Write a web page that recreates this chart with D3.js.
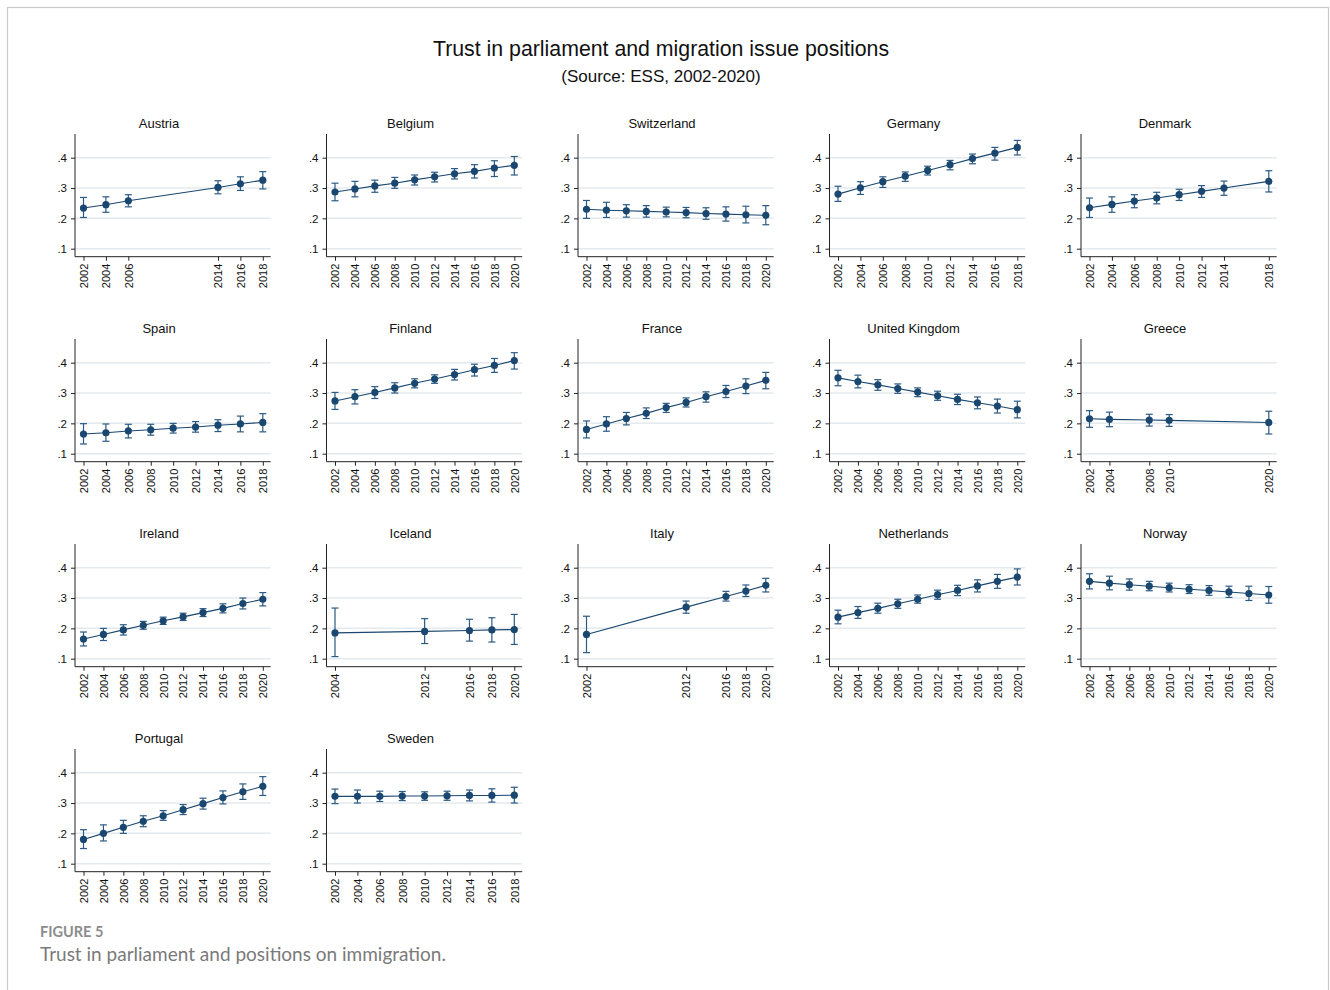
<!DOCTYPE html>
<html>
<head>
<meta charset="utf-8">
<script src="https://cdn.jsdelivr.net/npm/d3@7"></script>
<style>
  html, body { margin: 0; padding: 0; background: #fff; }
  svg { display: block; }
</style>
</head>
<body>
<svg id="chart" width="1330" height="990"></svg>
<script>
// ---------------- DATA ----------------
const countries = ["Austria","Belgium","Switzerland","Germany","Denmark",
  "Spain","Finland","France","United Kingdom","Greece",
  "Ireland","Iceland","Italy","Netherlands","Norway",
  "Portugal","Sweden"];

const yearsByCountry = [
  [2002,2004,2006,2014,2016,2018],
  [2002,2004,2006,2008,2010,2012,2014,2016,2018,2020],
  [2002,2004,2006,2008,2010,2012,2014,2016,2018,2020],
  [2002,2004,2006,2008,2010,2012,2014,2016,2018],
  [2002,2004,2006,2008,2010,2012,2014,2018],
  [2002,2004,2006,2008,2010,2012,2014,2016,2018],
  [2002,2004,2006,2008,2010,2012,2014,2016,2018,2020],
  [2002,2004,2006,2008,2010,2012,2014,2016,2018,2020],
  [2002,2004,2006,2008,2010,2012,2014,2016,2018,2020],
  [2002,2004,2008,2010,2020],
  [2002,2004,2006,2008,2010,2012,2014,2016,2018,2020],
  [2004,2012,2016,2018,2020],
  [2002,2012,2016,2018,2020],
  [2002,2004,2006,2008,2010,2012,2014,2016,2018,2020],
  [2002,2004,2006,2008,2010,2012,2014,2016,2018,2020],
  [2002,2004,2006,2008,2010,2012,2014,2016,2018,2020],
  [2002,2004,2006,2008,2010,2012,2014,2016,2018]
];

const estimates = [
  [0.234,0.245,0.258,0.302,0.314,0.326],
  [0.287,0.297,0.307,0.316,0.327,0.337,0.347,0.355,0.366,0.375],
  [0.230,0.227,0.225,0.223,0.221,0.219,0.216,0.214,0.212,0.210],
  [0.280,0.301,0.321,0.339,0.358,0.377,0.397,0.415,0.434],
  [0.235,0.246,0.257,0.267,0.278,0.289,0.300,0.322],
  [0.165,0.169,0.175,0.179,0.184,0.188,0.194,0.198,0.203],
  [0.274,0.288,0.302,0.317,0.332,0.346,0.361,0.377,0.391,0.407],
  [0.180,0.198,0.216,0.233,0.252,0.269,0.288,0.305,0.323,0.342],
  [0.350,0.338,0.327,0.315,0.303,0.291,0.279,0.268,0.257,0.245],
  [0.215,0.213,0.211,0.210,0.203],
  [0.165,0.180,0.195,0.210,0.225,0.238,0.252,0.266,0.282,0.296],
  [0.185,0.190,0.193,0.195,0.196],
  [0.180,0.270,0.305,0.323,0.342],
  [0.237,0.252,0.266,0.281,0.296,0.311,0.325,0.340,0.355,0.369],
  [0.355,0.349,0.344,0.339,0.334,0.329,0.325,0.320,0.315,0.310],
  [0.180,0.200,0.220,0.240,0.258,0.278,0.298,0.318,0.337,0.355],
  [0.322,0.322,0.322,0.323,0.323,0.324,0.325,0.325,0.326]
];

const lowerCI = [
  [0.203,0.220,0.238,0.281,0.292,0.297],
  [0.258,0.271,0.286,0.299,0.310,0.320,0.330,0.333,0.338,0.343],
  [0.200,0.203,0.204,0.204,0.205,0.202,0.197,0.191,0.185,0.179],
  [0.256,0.279,0.302,0.322,0.343,0.360,0.380,0.392,0.409],
  [0.203,0.220,0.235,0.248,0.259,0.269,0.276,0.287],
  [0.132,0.141,0.152,0.161,0.168,0.171,0.173,0.172,0.172],
  [0.246,0.264,0.282,0.300,0.317,0.332,0.343,0.356,0.368,0.379],
  [0.152,0.174,0.195,0.216,0.236,0.254,0.270,0.285,0.298,0.314],
  [0.324,0.317,0.309,0.299,0.288,0.276,0.262,0.248,0.234,0.218],
  [0.187,0.189,0.191,0.190,0.165],
  [0.142,0.160,0.178,0.197,0.213,0.226,0.239,0.251,0.264,0.274],
  [0.107,0.150,0.158,0.155,0.147],
  [0.120,0.250,0.290,0.305,0.320],
  [0.215,0.233,0.250,0.266,0.283,0.296,0.308,0.320,0.332,0.343],
  [0.330,0.327,0.326,0.324,0.320,0.315,0.309,0.302,0.292,0.283],
  [0.150,0.175,0.200,0.222,0.243,0.262,0.280,0.297,0.312,0.325],
  [0.298,0.300,0.305,0.308,0.309,0.309,0.307,0.303,0.300]
];

const upperCI = [
  [0.269,0.271,0.278,0.324,0.337,0.354],
  [0.316,0.322,0.326,0.335,0.343,0.352,0.364,0.377,0.390,0.404],
  [0.259,0.253,0.245,0.242,0.237,0.236,0.235,0.238,0.240,0.242],
  [0.306,0.321,0.337,0.353,0.372,0.391,0.412,0.434,0.457],
  [0.267,0.271,0.278,0.286,0.296,0.308,0.323,0.357],
  [0.199,0.198,0.197,0.197,0.200,0.206,0.212,0.224,0.232],
  [0.302,0.311,0.321,0.334,0.347,0.360,0.378,0.395,0.414,0.433],
  [0.208,0.222,0.236,0.251,0.266,0.284,0.304,0.325,0.347,0.368],
  [0.375,0.359,0.344,0.330,0.317,0.306,0.296,0.287,0.280,0.273],
  [0.242,0.237,0.230,0.229,0.240],
  [0.188,0.200,0.212,0.223,0.237,0.250,0.265,0.281,0.300,0.318],
  [0.267,0.232,0.230,0.235,0.246],
  [0.240,0.290,0.322,0.343,0.365],
  [0.260,0.272,0.283,0.296,0.310,0.326,0.342,0.360,0.378,0.396],
  [0.380,0.372,0.363,0.355,0.349,0.344,0.341,0.339,0.339,0.338],
  [0.212,0.228,0.243,0.258,0.275,0.295,0.316,0.340,0.363,0.387],
  [0.346,0.343,0.339,0.338,0.337,0.339,0.343,0.347,0.352]
];

const yTicks = [0.1, 0.2, 0.3, 0.4];
const yTickLabels = [".1", ".2", ".3", ".4"];

const mainTitle = "Trust in parliament and migration issue positions";
const subTitle = "(Source: ESS, 2002-2020)";
const figLabel = "FIGURE 5";
const figCaption = "Trust in parliament and positions on immigration.";

// ---------------- LAYOUT ----------------
const svg = d3.select("#chart");
const FONT = "'Liberation Sans', Arial, Helvetica, sans-serif";
const NAVY = "#1a476f";

// frame
svg.append("rect")
  .attr("x", 7.5).attr("y", 7.5)
  .attr("width", 1321).attr("height", 1010)
  .attr("fill", "none").attr("stroke", "#c9c9c9").attr("stroke-width", 1.2);

svg.append("text").attr("x", 661).attr("y", 56)
  .attr("text-anchor", "middle").attr("font-family", FONT)
  .attr("font-size", 21.3).attr("fill", "#111").text(mainTitle);
svg.append("text").attr("x", 661).attr("y", 82)
  .attr("text-anchor", "middle").attr("font-family", FONT)
  .attr("font-size", 17).attr("fill", "#111").text(subTitle);

const colStart = 75, colStep = 251.5;
const rowStart = 134, rowStep = 205;
const plotH = 122.7, plotW = 195.7;

countries.forEach((name, i) => {
  const col = i % 5, row = Math.floor(i / 5);
  const ax = colStart + col * colStep;
  const top = rowStart + row * rowStep;
  const bottom = top + plotH;
  const yrs = yearsByCountry[i];

  const x = d3.scaleLinear()
    .domain([d3.min(yrs), d3.max(yrs)])
    .range([ax + 8.5, ax + 187.8]);
  const y = d3.scaleLinear()
    .domain([0.1, 0.4])
    .range([top + 114.7, top + 23.7]);

  const g = svg.append("g");

  // gridlines
  g.selectAll("line.grid").data(yTicks).join("line")
    .attr("x1", ax).attr("x2", ax + plotW)
    .attr("y1", d => y(d)).attr("y2", d => y(d))
    .attr("stroke", "#e4eaee").attr("stroke-width", 1.5);

  // y axis
  const yAxis = d3.axisLeft(y).tickValues(yTicks)
    .tickFormat((d, k) => yTickLabels[k]).tickSize(4).tickPadding(4);
  const ya = g.append("g").attr("transform", `translate(${ax},0)`).call(yAxis);
  ya.select(".domain").remove();
  ya.selectAll("line").attr("stroke", "#222");
  ya.selectAll("text").attr("font-family", FONT).attr("font-size", 11.5).attr("fill", "#111");
  g.append("line").attr("x1", ax).attr("x2", ax).attr("y1", top).attr("y2", bottom)
    .attr("stroke", "#222").attr("stroke-width", 1);

  // x axis
  const xAxis = d3.axisBottom(x).tickValues(yrs).tickFormat(d3.format("d"))
    .tickSize(4).tickPadding(3);
  const xa = g.append("g").attr("transform", `translate(0,${bottom})`).call(xAxis);
  xa.select(".domain").remove();
  xa.selectAll("line").attr("stroke", "#222");
  xa.selectAll("text")
    .attr("font-family", FONT).attr("font-size", 11).attr("fill", "#111")
    .attr("transform", "rotate(-90)")
    .attr("text-anchor", "end")
    .attr("x", -7).attr("y", 0).attr("dy", "0.35em");
  g.append("line").attr("x1", ax).attr("x2", ax + plotW).attr("y1", bottom).attr("y2", bottom)
    .attr("stroke", "#222").attr("stroke-width", 1);

  // panel title
  g.append("text").attr("x", ax + 84).attr("y", top - 6)
    .attr("text-anchor", "middle").attr("font-family", FONT)
    .attr("font-size", 13).attr("fill", "#111").text(name);

  const pts = yrs.map((yr, k) => ({ yr, v: estimates[i][k], lo: lowerCI[i][k], hi: upperCI[i][k] }));

  // connecting line
  g.append("path").datum(pts)
    .attr("d", d3.line().x(d => x(d.yr)).y(d => y(d.v)))
    .attr("fill", "none").attr("stroke", NAVY).attr("stroke-width", 1.1);

  // error bars
  const eb = g.selectAll("g.eb").data(pts).join("g").attr("stroke", "#2b5a84").attr("stroke-width", 1.2);
  eb.append("line").attr("x1", d => x(d.yr)).attr("x2", d => x(d.yr))
    .attr("y1", d => y(d.lo)).attr("y2", d => y(d.hi));
  eb.append("line").attr("x1", d => x(d.yr) - 3.5).attr("x2", d => x(d.yr) + 3.5)
    .attr("y1", d => y(d.lo)).attr("y2", d => y(d.lo));
  eb.append("line").attr("x1", d => x(d.yr) - 3.5).attr("x2", d => x(d.yr) + 3.5)
    .attr("y1", d => y(d.hi)).attr("y2", d => y(d.hi));

  // markers
  g.selectAll("circle").data(pts).join("circle")
    .attr("cx", d => x(d.yr)).attr("cy", d => y(d.v)).attr("r", 3.6)
    .attr("fill", NAVY);
});

// caption
svg.append("text").attr("x", 40).attr("y", 937)
  .attr("font-family", "Lato, 'Open Sans', sans-serif").attr("font-size", 14.5)
  .attr("font-weight", 700).attr("fill", "#8c8c8c").text(figLabel);
svg.append("text").attr("x", 40).attr("y", 961)
  .attr("font-family", "Lato, 'Open Sans', sans-serif").attr("font-size", 19)
  .attr("fill", "#7a7a7a").text(figCaption);
</script>
</body>
</html>
